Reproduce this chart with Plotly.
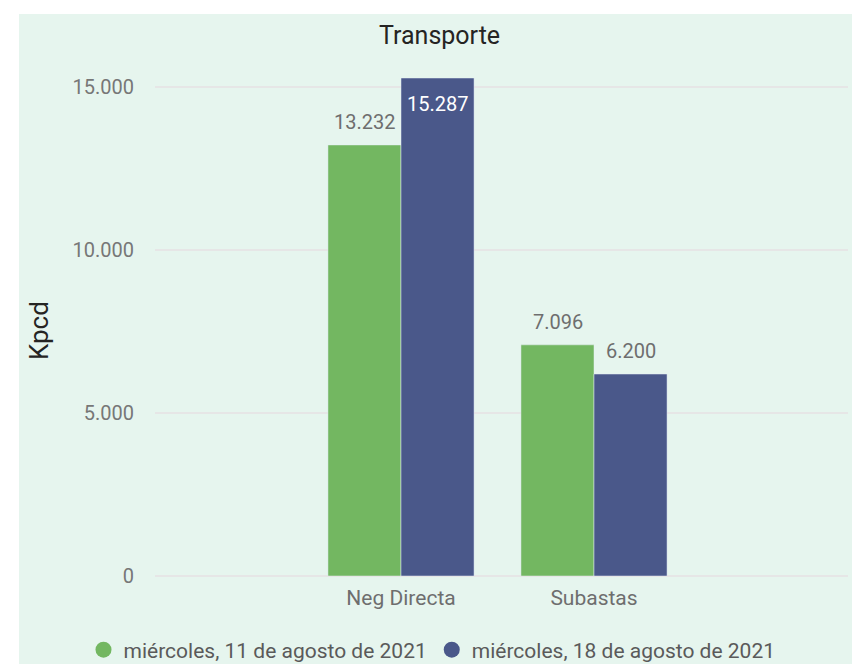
import plotly.graph_objects as go

categories = ["Neg Directa", "Subastas"]
series_names = ["miércoles, 11 de agosto de 2021", "miércoles, 18 de agosto de 2021"]
values_11 = [13232, 7096]
values_18 = [15287, 6200]
tick_vals = [0, 5000, 10000, 15000]

GREEN = "#73B761"
NAVY = "#4A588A"
FONT = "Roboto"

# plot area in px: x 155..848, y 78..576
W, H = 852, 664
L, R, T = 155, 4, 78
B = H - 576
pw, ph = W - L - R, H - T - B

def px(x):
    return (x - L) / pw

def py(y):
    return (H - B - y) / ph

fig = go.Figure()
fig.add_trace(go.Bar(x=categories, y=values_11, name=series_names[0],
                     marker_color=GREEN, showlegend=False))
fig.add_trace(go.Bar(x=categories, y=values_18, name=series_names[1],
                     marker_color=NAVY, showlegend=False))
for name, col in zip(series_names, [GREEN, NAVY]):
    fig.add_trace(go.Scatter(
        x=[None], y=[None], mode="markers", name=name,
        marker=dict(symbol="circle", size=19, color=col),
    ))

# data labels, anchored to the data values
BAR_W = 73
annotations = []
top = max(values_11 + values_18)
for vals, xs in ((values_11, -BAR_W / 2), (values_18, BAR_W / 2)):
    for cat, v in zip(categories, vals):
        inside = v == top
        annotations.append(dict(
            x=cat, y=v, xref="x", yref="y", text=f"{v:,.0f}".replace(",", "."),
            showarrow=False, xshift=xs, yshift=-26 if inside else 23,
            xanchor="center", yanchor="middle",
            font=dict(size=20, family=FONT, color="white" if inside else "#6E6E6E"),
        ))

start = -(401 - L) / 193
end = start + pw / 193

fig.update_layout(
    width=W, height=H,
    margin=dict(l=L, r=R, t=T, b=B, pad=0, autoexpand=False),
    paper_bgcolor="white",
    plot_bgcolor="rgba(0,0,0,0)",
    separators=",.",
    barmode="group", bargap=0.243, bargroupgap=0,
    font=dict(family=FONT, color="#777777"),
    xaxis=dict(
        range=[start, end], showgrid=False, showline=False, zeroline=False,
        tickfont=dict(size=21, color="#6E6E6E", family=FONT),
        ticks="", ticklabelstandoff=7,
    ),
    yaxis=dict(
        range=[0, 15287], tickvals=tick_vals, tickformat=",.0f",
        showgrid=True, gridcolor="#E6E6E6", gridwidth=1.5,
        zeroline=True, zerolinecolor="#E6E6E6", zerolinewidth=1.5,
        showline=False, ticks="", ticklabelstandoff=20,
        tickfont=dict(size=20, color="#777777", family=FONT),
    ),
    legend=dict(
        orientation="h", x=px(432), xanchor="center", y=py(650), yanchor="middle",
        font=dict(size=21, color="#5A5A5A", family=FONT),
        itemwidth=30, tracegroupgap=0, bgcolor="rgba(0,0,0,0)",
    ),
    shapes=[dict(
        type="rect", xref="paper", yref="paper", layer="below",
        x0=px(19), x1=px(870), y0=py(700), y1=py(14),
        fillcolor="#E6F5EE", line=dict(width=0),
    )],
    annotations=annotations + [
        dict(text="Transporte", xref="paper", yref="paper", x=px(439), y=py(35),
             xanchor="center", yanchor="middle", showarrow=False,
             font=dict(size=25, color="#252423", family=FONT)),
        dict(text="Kpcd", xref="paper", yref="paper", x=px(39), y=py(331),
             xanchor="center", yanchor="middle", showarrow=False, textangle=-90,
             font=dict(size=26, color="#252423", family=FONT)),
    ],
)

fig.write_html("out.html", config={"displayModeBar": False},
               post_script="document.body.style.margin='0';")
